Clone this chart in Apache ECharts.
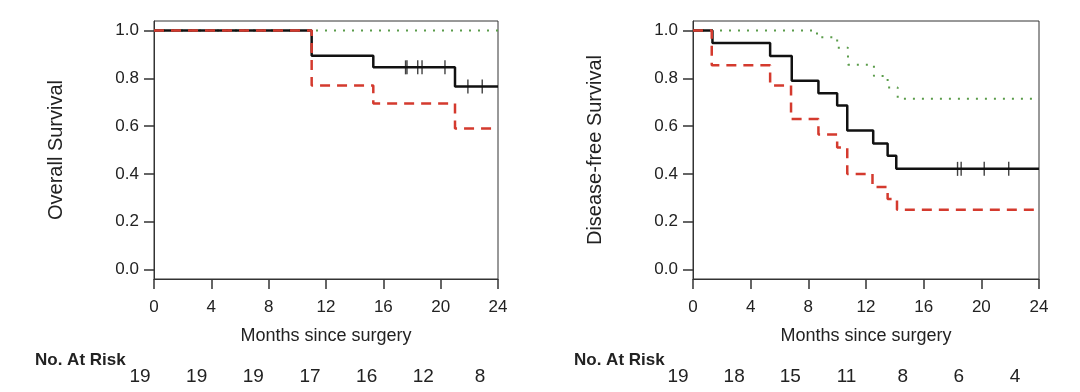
<!DOCTYPE html>
<html>
<head>
<meta charset="utf-8">
<script src="https://cdn.jsdelivr.net/npm/echarts@6/dist/echarts.min.js"></script>
<style>html,body{margin:0;padding:0;background:#fff;}#c{width:1080px;height:392px;}</style>
</head>
<body>
<div id="c"></div>
<script>
// ---- data ----
var xTicks = [0, 4, 8, 12, 16, 20, 24];
var yTicks = [0, 0.2, 0.4, 0.6, 0.8, 1.0];

// Overall survival (left)
var osBlack = [[0,1],[11,0.895],[15.3,0.846],[21,0.766],[24,0.766]];
var osRed   = [[0,1],[11,0.77],[15.3,0.695],[21,0.59],[24,0.59]];
var osGreen = [[0,1],[24,1]];
var osCensor = [17.55, 17.65, 18.4, 18.7, 20.3, 21.9, 22.9];
var osAtRisk = [19, 19, 19, 17, 16, 12, 8];

// Disease-free survival (right)
var dfsBlack = [[0,1],[1.35,0.948],[5.35,0.894],[6.85,0.79],[8.7,0.738],[10.0,0.686],[10.7,0.582],[12.5,0.527],[13.5,0.476],[14.1,0.421],[24,0.421]];
var dfsRed   = [[0,1],[1.3,0.855],[5.35,0.77],[6.8,0.63],[8.7,0.565],[10.0,0.51],[10.7,0.40],[12.45,0.345],[13.5,0.295],[14.15,0.25],[24,0.25]];
var dfsGreen = [[0,1],[8.6,0.972],[10.0,0.928],[10.75,0.857],[12.55,0.81],[13.5,0.762],[14.2,0.715],[24,0.715]];
var dfsCensor = [18.35, 18.6, 20.2, 21.9];
var dfsAtRisk = [19, 18, 15, 11, 8, 6, 4];

// ---- helpers ----
function valueAt(curve, t) {
  var v = curve[0][1];
  for (var i = 0; i < curve.length; i++) { if (curve[i][0] <= t) v = curve[i][1]; }
  return v;
}
var TXT = '#222';
var FONT = 'Liberation Sans, Arial, sans-serif';
var RED = '#d43a2e', GREEN = '#5a9c4a', BLACK = '#111';

function xAxisMain(idx, name) {
  return {
    type: 'value', gridIndex: idx, min: 0, max: 24, interval: 4,
    name: name, nameLocation: 'middle', nameGap: 48,
    nameTextStyle: {color: TXT, fontSize: 18, fontFamily: FONT},
    axisLine: {show: true, onZero: false, lineStyle: {color: '#333', width: 1}},
    axisTick: {show: true, inside: false, length: 10, lineStyle: {color: '#333', width: 1.5}},
    axisLabel: {color: TXT, fontSize: 17, fontFamily: FONT, margin: 20},
    splitLine: {show: false}
  };
}
function yAxisMain(idx, name) {
  return {
    type: 'value', gridIndex: idx, min: -0.04, max: 1.04,
    name: name, nameLocation: 'middle', nameGap: 88, nameRotate: 90,
    nameTextStyle: {color: TXT, fontSize: 20, fontFamily: FONT},
    axisLine: {show: true, onZero: false, lineStyle: {color: '#333', width: 1}},
    axisTick: {show: true, inside: false, length: 10, customValues: yTicks, lineStyle: {color: '#333', width: 1.5}},
    axisLabel: {color: TXT, fontSize: 17, fontFamily: FONT, margin: 15, customValues: yTicks,
      formatter: function (v) { return v.toFixed(1); }},
    splitLine: {show: false}
  };
}
function riskAxis(idx, arr) {
  return {
    type: 'value', gridIndex: idx, min: 0, max: 24, interval: 4,
    axisLine: {show: false}, axisTick: {show: false}, splitLine: {show: false},
    axisLabel: {color: TXT, fontSize: 19, fontFamily: FONT, margin: 4,
      formatter: function (v) { var i = xTicks.indexOf(v); return i >= 0 ? String(arr[i]) : ''; }}
  };
}
function hiddenY(idx) {
  return {type: 'value', gridIndex: idx, min: 0, max: 1, show: false};
}
function lineSeries(xi, data, color, type, width, z) {
  return {
    type: 'line', xAxisIndex: xi, yAxisIndex: xi, data: data, step: 'end',
    symbol: 'none', silent: true, z: z,
    lineStyle: {color: color, width: width, type: type, cap: 'butt'}
  };
}
function censorSeries(xi, curve, times) {
  return {
    type: 'scatter', xAxisIndex: xi, yAxisIndex: xi, z: 10, silent: true,
    symbol: 'rect', symbolSize: [1.4, 14],
    itemStyle: {color: BLACK},
    data: times.map(function (t) { return [t, valueAt(curve, t)]; })
  };
}

var chart = echarts.init(document.getElementById('c'), null, {renderer: 'canvas'});
chart.setOption({
  animation: false,
  backgroundColor: '#fff',
  title: [
    {text: 'No. At Risk', left: 30, top: 347, textStyle: {color: TXT, fontSize: 17, fontWeight: 'bold', fontFamily: FONT}},
    {text: 'No. At Risk', left: 569, top: 347, textStyle: {color: TXT, fontSize: 17, fontWeight: 'bold', fontFamily: FONT}}
  ],
  grid: [
    {left: 154, right: 582, top: 21, bottom: 113, show: true, borderColor: '#333', borderWidth: 1, backgroundColor: 'transparent'},
    {left: 693, right: 41, top: 21, bottom: 113, show: true, borderColor: '#333', borderWidth: 1, backgroundColor: 'transparent'},
    {left: 140, right: 600, top: 362, height: 1},
    {left: 678, right: 65, top: 362, height: 1}
  ],
  xAxis: [
    xAxisMain(0, 'Months since surgery'),
    xAxisMain(1, 'Months since surgery'),
    riskAxis(2, osAtRisk),
    riskAxis(3, dfsAtRisk)
  ],
  yAxis: [
    yAxisMain(0, 'Overall Survival'),
    yAxisMain(1, 'Disease-free Survival'),
    hiddenY(2),
    hiddenY(3)
  ],
  series: [
    lineSeries(0, osGreen, GREEN, [2, 7], 2, 2),
    lineSeries(0, osBlack, BLACK, 'solid', 2.5, 3),
    lineSeries(0, osRed, RED, [10, 7], 2.5, 4),
    censorSeries(0, osBlack, osCensor),
    lineSeries(1, dfsGreen, GREEN, [2, 7], 2, 2),
    lineSeries(1, dfsBlack, BLACK, 'solid', 2.5, 3),
    lineSeries(1, dfsRed, RED, [10, 7], 2.5, 4),
    censorSeries(1, dfsBlack, dfsCensor)
  ]
});
</script>
</body>
</html>
